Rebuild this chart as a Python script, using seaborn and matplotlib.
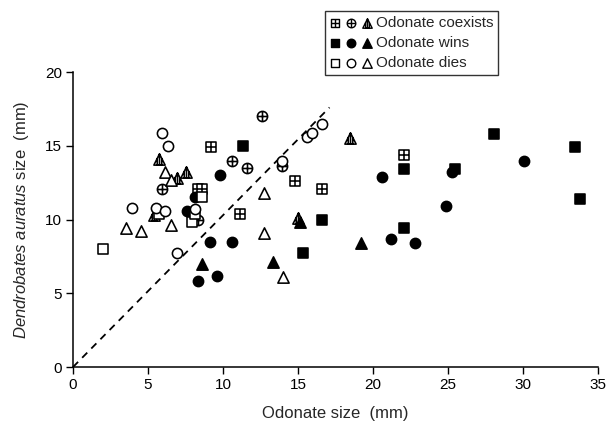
import numpy as np
import seaborn as sns
import matplotlib.pyplot as plt
from matplotlib.path import Path
from matplotlib.markers import MarkerStyle
from matplotlib.legend_handler import HandlerTuple

# odonate size (x) vs Dendrobates auratus size (y), mm
coexist_sq_x = [9.2, 8.3, 8.6, 11.1, 14.8, 16.6, 22.1]
coexist_sq_y = [14.9, 12.1, 12.1, 10.4, 12.6, 12.1, 14.4]
coexist_ci_x = [12.6, 10.6, 11.6, 5.9, 8.3, 13.9]
coexist_ci_y = [17.0, 14.0, 13.5, 12.1, 10.0, 13.6]
coexist_tr_x = [5.7, 6.9, 7.5, 5.4, 18.5, 15.0]
coexist_tr_y = [14.1, 12.8, 13.2, 10.3, 15.5, 10.1]

wins_sq_x = [11.3, 22.1, 16.6, 22.1, 15.3, 28.1, 33.5, 25.5, 33.8]
wins_sq_y = [15.0, 13.4, 10.0, 9.4, 7.7, 15.8, 14.9, 13.4, 11.4]
wins_ci_x = [9.8, 7.6, 8.1, 9.1, 10.6, 8.3, 9.6, 20.6, 21.2, 22.8, 24.9, 25.3, 30.1]
wins_ci_y = [13.0, 10.6, 11.5, 8.5, 8.5, 5.8, 6.2, 12.9, 8.7, 8.4, 10.9, 13.2, 14.0]
wins_tr_x = [8.6, 13.3, 19.2, 15.1]
wins_tr_y = [7.0, 7.1, 8.4, 9.8]

dies_sq_x = [2.0, 5.7, 7.9, 8.6, 8.1]
dies_sq_y = [8.0, 10.4, 9.8, 11.5, 10.4]
dies_ci_x = [5.9, 6.3, 3.9, 5.5, 6.1, 8.1, 6.9, 13.9, 15.6, 15.9, 16.6]
dies_ci_y = [15.9, 15.0, 10.8, 10.8, 10.6, 10.7, 7.7, 14.0, 15.6, 15.9, 16.5]
dies_tr_x = [3.5, 4.5, 6.5, 6.1, 6.5, 12.7, 12.7, 14.0]
dies_tr_y = [9.4, 9.2, 9.6, 13.2, 12.7, 11.8, 9.1, 6.1]

diag_x = [0, 17.1]
diag_y = [0, 17.6]
labels = ['Odonate coexists', 'Odonate wins', 'Odonate dies']

sns.set_style('ticks')
plt.rcParams['font.family'] = ['Liberation Sans', 'DejaVu Sans']
plt.rcParams['mathtext.fontset'] = 'custom'
plt.rcParams['mathtext.rm'] = 'Liberation Sans'
plt.rcParams['mathtext.it'] = 'Liberation Sans:italic'

M, L = Path.MOVETO, Path.LINETO
# square with a cross
sq_plus = Path([(-1, -1), (1, -1), (1, 1), (-1, 1), (-1, -1),
                (0, -1), (0, 1), (-1, 0), (1, 0)],
               [M, L, L, L, Path.CLOSEPOLY, M, L, M, L])
# circle with a cross
circ = Path.unit_circle()
ci_plus = Path(np.concatenate([circ.vertices, [(0, -1), (0, 1), (-1, 0), (1, 0)]]),
               np.concatenate([circ.codes, [M, L, M, L]]))
# triangle with vertical hatching
tri_hatch = Path([(0, 1), (-1, -1), (1, -1), (0, 1),
                  (-0.4, -1), (-0.4, 0.2), (0, -1), (0, 1), (0.4, -1), (0.4, 0.2)],
                 [M, L, L, Path.CLOSEPOLY, M, L, M, L, M, L])

fig = plt.figure(figsize=(6.1, 4.24), dpi=100)
ax = fig.add_axes([0.1197, 0.1344, 0.8606, 0.6956])

sns.lineplot(x=diag_x, y=diag_y, ax=ax, color='black', lw=1.3, linestyle=(0, (4, 3.2)))

S_SQ, S_CI, S_TR = 48, 54, 66
common = dict(ax=ax, edgecolor='black', linewidth=1.15, clip_on=False, zorder=3)
groups = [
    (coexist_sq_x, coexist_sq_y, MarkerStyle(sq_plus), S_SQ, 'white', 0),
    (coexist_ci_x, coexist_ci_y, MarkerStyle(ci_plus), S_CI, 'white', 0),
    (coexist_tr_x, coexist_tr_y, MarkerStyle(tri_hatch), S_TR, 'white', 0),
    (wins_sq_x, wins_sq_y, 's', S_SQ, 'black', 1),
    (wins_ci_x, wins_ci_y, 'o', S_CI, 'black', 1),
    (wins_tr_x, wins_tr_y, '^', S_TR, 'black', 1),
    (dies_sq_x, dies_sq_y, 's', S_SQ, 'white', 2),
    (dies_ci_x, dies_ci_y, 'o', S_CI, 'white', 2),
    (dies_tr_x, dies_tr_y, '^', S_TR, 'white', 2),
]
handles = [[], [], []]
for gx, gy, mk, s, fc, row in groups:
    sns.scatterplot(x=gx, y=gy, marker=mk, s=s, color=fc, **common)
    h = ax.scatter([], [], marker=mk, s=s * 0.7, facecolor=fc, edgecolor='black', linewidth=1.0)
    handles[row].append(h)

ax.set_xlim(0, 35)
ax.set_ylim(0, 20)
ax.set_xticks(range(0, 36, 5))
ax.set_yticks(range(0, 21, 5))
ax.tick_params(direction='out', length=5, width=1, labelsize=11, colors='black', pad=3)
for side in ['top', 'right']:
    ax.spines[side].set_visible(False)
for side in ['left', 'bottom']:
    ax.spines[side].set_linewidth(1.1)
    ax.spines[side].set_color('black')

ax.set_xlabel('Odonate size  (mm)', fontsize=12, labelpad=10)
ax.set_ylabel(r'$\it{Dendrobates}$ $\it{auratus}$ size  (mm)', fontsize=12, labelpad=10)

leg = fig.legend([tuple(h) for h in handles], labels,
                 handler_map={tuple: HandlerTuple(ndivide=None, pad=0.5)},
                 loc='upper left', bbox_to_anchor=(0.533, 0.975),
                 frameon=True, fancybox=False, edgecolor='black', fontsize=11,
                 handlelength=2.7, handletextpad=0.25, labelspacing=0.38,
                 borderpad=0.35, borderaxespad=0)
leg.get_frame().set_linewidth(1.0)

plt.savefig('out.png', dpi=100)
